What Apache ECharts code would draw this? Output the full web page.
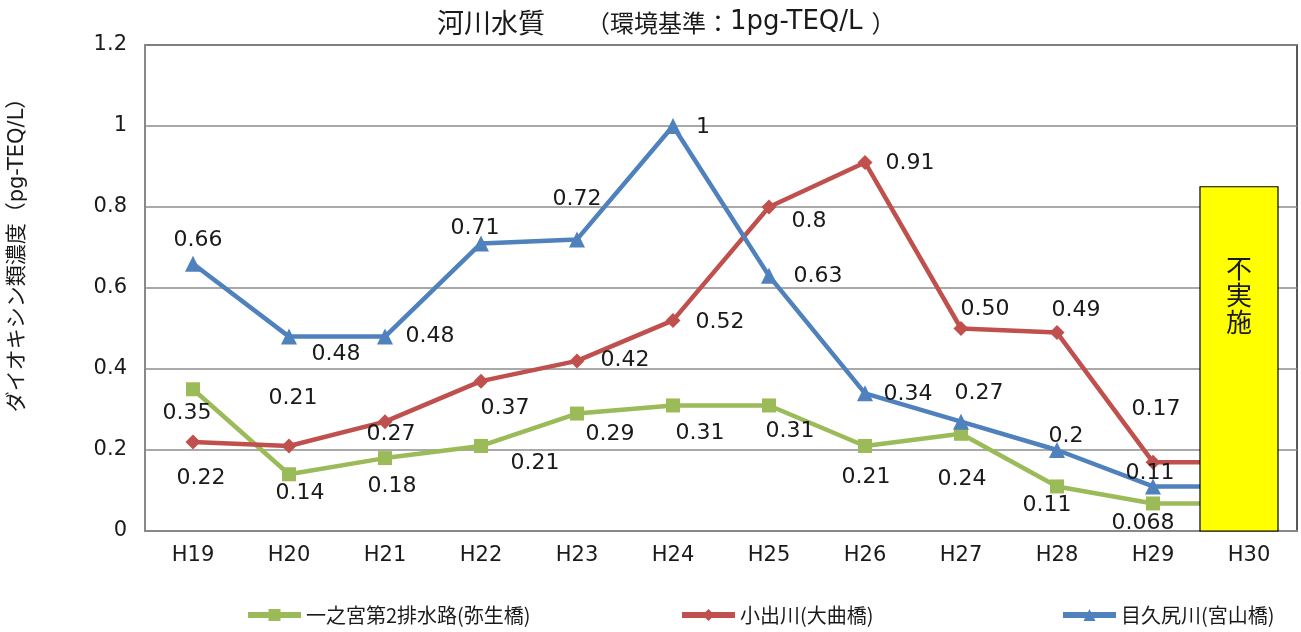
<!DOCTYPE html>
<html><head><meta charset="utf-8">
<script src="https://cdn.jsdelivr.net/npm/echarts@6/dist/echarts.min.js"></script>
<style>html,body{margin:0;padding:0;background:#fff}#c{width:1301px;height:632px}</style>
</head><body><div id="c"></div>
<script>
const categories = ['H19','H20','H21','H22','H23','H24','H25','H26','H27','H28','H29','H30'];
const greenName = '一之宮第2排水路(弥生橋)';
const redName = '小出川(大曲橋)';
const blueName = '目久尻川(宮山橋)';
// H30 not measured: lines continue flat behind the "不実施" box
const greenValues = [0.35,0.14,0.18,0.21,0.29,0.31,0.31,0.21,0.24,0.11,0.068,0.068];
const redValues   = [0.22,0.21,0.27,0.37,0.42,0.52,0.80,0.91,0.50,0.49,0.17,0.17];
const blueValues  = [0.66,0.48,0.48,0.71,0.72,1.00,0.63,0.34,0.27,0.20,0.11,0.11];
const redLabelText = {8:'0.50'};
const notDoneCategory = 'H30';
const notDoneValue = 0.85;
const notDoneText = '不\n実\n施';
const yTicks = {min:0, max:1.2, interval:0.2};

const FONT = "'DejaVu Sans','Noto Sans CJK JP',sans-serif";
const CJK = "'Noto Sans CJK JP','DejaVu Sans',sans-serif";

// label offsets (style)
const greenOff = [[-6,24],[11,19],[7,28],[54,17],[33,21],[27,28],[21,26],[1,31],[1,45],[-10,19],[-10,20]];
const redOff   = [[8,36],[4,-48],[6,13],[24,27],[48,-1],[47,2],[40,14],[45,1],[24,-19],[19,-22],[3,-53]];
const blueOff  = [[5,-23],[47,18],[45,0],[-6,-15],[0,-40],[30,1],[49,0],[43,1],[18,-28],[9,-14],[-3,-13]];

function mkData(vals, offs, textMap){
  return vals.map((v,i)=>{
    if(i>=offs.length) return {value:v, label:{show:false}, symbolSize:0};
    const t = textMap && textMap[i] ? textMap[i] : String(v);
    return {value:v, label:{show:true, position:'inside', offset:offs[i], formatter:t}};
  });
}
function lineSeries(name, color, symbol, size, vals, offs, textMap){
  return {
    name, type:'line', data: mkData(vals, offs, textMap), color,
    symbol, symbolSize:size, z:3,
    lineStyle:{width:4.5, color},
    itemStyle:{color},
    label:{fontFamily:FONT, fontSize:22, color:'#1a1a1a'},
    animation:false
  };
}

const chart = echarts.init(document.getElementById('c'), null, {renderer:'canvas'});
const legendBase = {
  bottom:2, itemWidth:53, itemHeight:15, itemGap:0,
  lineStyle:{width:6},
  textStyle:{fontFamily:CJK, fontSize:20, color:'#1a1a1a'}
};
chart.setOption({
  backgroundColor:'#fff',
  animation:false,
  title:{
    text:'{a|河川水質}{sp|}{b|（環境基準：}{c|1pg-TEQ/L}{d|）}',
    left:432, top:4,
    textStyle:{fontWeight:'normal', rich:{
      a:{fontFamily:CJK, fontSize:27, color:'#1a1a1a', fontWeight:'normal'},
      sp:{width:41},
      b:{fontFamily:CJK, fontSize:24, color:'#1a1a1a', fontWeight:'normal'},
      c:{fontFamily:FONT, fontSize:26, color:'#1a1a1a', fontWeight:'normal'},
      d:{fontFamily:CJK, fontSize:24, color:'#1a1a1a', fontWeight:'normal', padding:[0,0,0,9]}
    }}
  },
  grid:{left:145, right:4, top:45, bottom:101, show:true, borderColor:'#222', borderWidth:1.5},
  legend:[
    Object.assign({}, legendBase, {left:240, data:[greenName]}),
    Object.assign({}, legendBase, {left:674, data:[redName]}),
    Object.assign({}, legendBase, {left:1055, data:[blueName]})
  ],
  xAxis:{
    type:'category', data:categories, boundaryGap:true,
    axisTick:{show:false},
    axisLine:{lineStyle:{color:'#888', width:2}},
    axisLabel:{fontFamily:FONT, fontSize:21, color:'#1a1a1a', margin:14}
  },
  yAxis:{
    type:'value', min:yTicks.min, max:yTicks.max, interval:yTicks.interval,
    axisLine:{show:true, lineStyle:{color:'#888', width:2}},
    axisTick:{show:false},
    splitLine:{lineStyle:{color:'#8c8c8c', width:1.5}},
    axisLabel:{fontFamily:FONT, fontSize:21, color:'#1a1a1a', margin:18}
  },
  graphic:[{
    type:'text',
    rotation:Math.PI/2, x:18, y:250,
    style:{text:'ダイオキシン類濃度（pg-TEQ/L）', font:"21px 'DejaVu Sans','Noto Sans CJK JP'", fill:'#1a1a1a', align:'center', verticalAlign:'middle'}
  }],
  series:[
    lineSeries(greenName, '#9BBB59', 'rect', 14, greenValues, greenOff),
    lineSeries(redName, '#C0504D', 'diamond', 15, redValues, redOff, redLabelText),
    lineSeries(blueName, '#4F81BD', 'triangle', 16, blueValues, blueOff),
    {
      name:'不実施', type:'custom', z:10,
      data:[[notDoneCategory, notDoneValue]],
      renderItem:function(params, api){
        const top = api.coord([api.value(0), api.value(1)]);
        const base = api.coord([api.value(0), 0]);
        const w = 78;
        const x = top[0] - 49;
        return {
          type:'group',
          children:[
            {type:'rect', shape:{x:x, y:top[1], width:w, height:base[1]-top[1]},
             style:{fill:'#FFFF00', stroke:'#000', lineWidth:1.2}},
            {type:'text', x:x + w/2, y:top[1] + 68,
             style:{text:notDoneText, font:"26px 'Noto Sans CJK JP'", fill:'#1a1a1a', align:'center', verticalAlign:'top', lineHeight:27}}
          ]
        };
      }
    }
  ]
});
</script>
</body></html>
